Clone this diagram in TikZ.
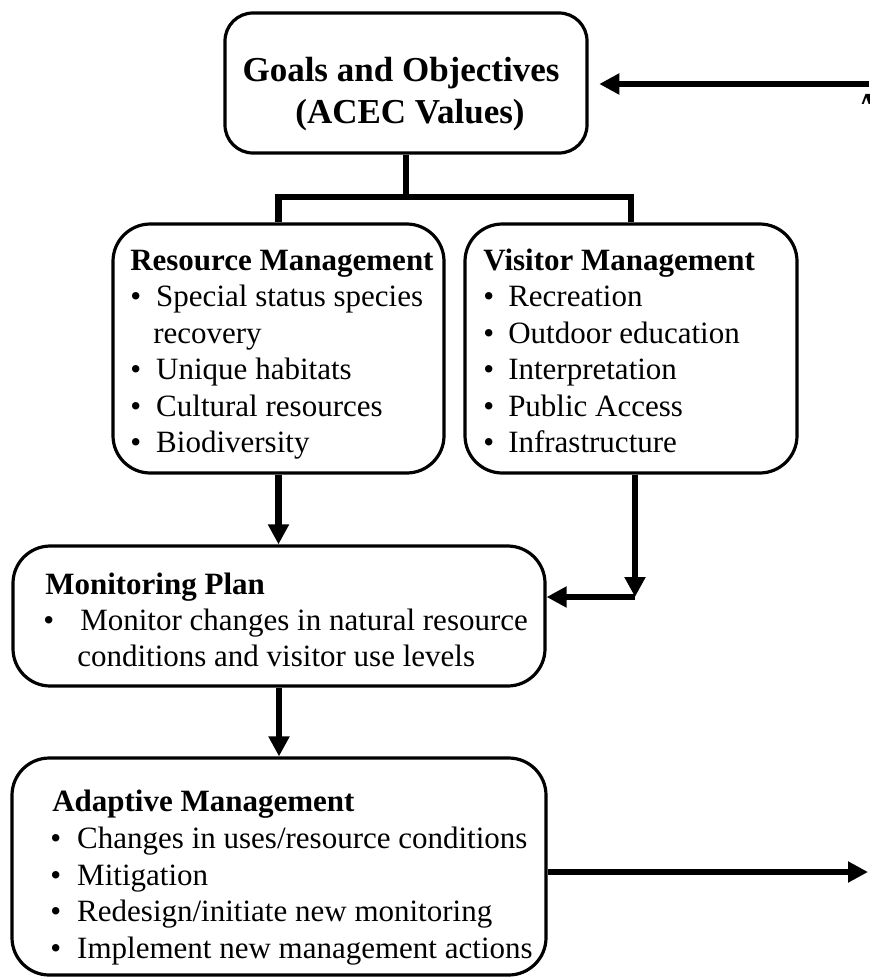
\documentclass[tikz,border=0pt]{standalone}
\usepackage{fontspec}
\setmainfont{Liberation Serif}
\usetikzlibrary{arrows.meta}
\newcommand\bitem[2]{\makebox[#1][l]{\textbullet}#2}
\newcommand\bodyfont{\fontsize{23.25pt}{27pt}\selectfont}
\newcommand\goalfont{\fontsize{26.25pt}{31.5pt}\selectfont\bfseries}
\begin{document}
\begin{tikzpicture}[x=0.75pt,y=-0.75pt,
  box/.style={draw, line width=2.4pt, inner sep=0pt, rounded corners=28pt},
  txt/.style={anchor=base west, inner sep=0pt, font=\bodyfont},
  hd/.style={anchor=base west, inner sep=0pt, font=\bodyfont\bfseries},
  conn/.style={line width=4.6pt, line join=miter},
  arr/.style={conn, -{Triangle[width=15pt,length=15pt]}}
]
\useasboundingbox (0,0) rectangle (869,977);

% boxes
\node[box, rounded corners=21pt, minimum width=271.5pt, minimum height=105pt] (goals) at (406,83) {};
\node[box, minimum width=248.25pt, minimum height=186.75pt] (res) at (278.5,348.5) {};
\node[box, minimum width=249pt, minimum height=186.75pt] (vis) at (631,348.5) {};
\node[box, minimum width=399pt, minimum height=105pt] (mon) at (279,616) {};
\node[box, minimum width=400.5pt, minimum height=162.75pt] (ada) at (279,866.5) {};

% goals text
\node[anchor=base, inner sep=0pt, font=\goalfont] (g1) at (401,82) {Goals and Objectives};
\node[anchor=base, inner sep=0pt, font=\goalfont] (g2) at (410,124) {(ACEC Values)};

% resource text
\node[hd]  (r0) at (130,270)   {Resource Management};
\node[txt] (r1) at (130,306.5) {\bitem{19.5pt}{Special status species}};
\node[txt] (r2) at (153,343)   {recovery};
\node[txt] (r3) at (130,379.5) {\bitem{19.5pt}{Unique habitats}};
\node[txt] (r4) at (130,416)   {\bitem{19.5pt}{Cultural resources}};
\node[txt] (r5) at (130,452.5) {\bitem{19.5pt}{Biodiversity}};

% visitor text
\node[hd]  (v0) at (483,270)   {Visitor Management};
\node[txt] (v1) at (483,306.5) {\bitem{18.75pt}{Recreation}};
\node[txt] (v2) at (483,343)   {\bitem{18.75pt}{Outdoor education}};
\node[txt] (v3) at (483,379.5) {\bitem{18.75pt}{Interpretation}};
\node[txt] (v4) at (483,416)   {\bitem{18.75pt}{Public Access}};
\node[txt] (v5) at (483,452.5) {\bitem{18.75pt}{Infrastructure}};

% monitoring text
\node[hd]  (m0) at (45,594) {Monitoring Plan};
\node[txt] (m1) at (43,630) {\bitem{27.75pt}{Monitor changes in natural resource}};
\node[txt] (m2) at (77,666) {conditions and visitor use levels};

% adaptive text
\node[hd]  (a0) at (52,811)   {Adaptive Management};
\node[txt] (a1) at (50,848)   {\bitem{20.25pt}{Changes in uses/resource conditions}};
\node[txt] (a2) at (50,885)   {\bitem{20.25pt}{Mitigation}};
\node[txt] (a3) at (50,921.5) {\bitem{20.25pt}{Redesign/initiate new monitoring}};
\node[txt] (a4) at (50,958)   {\bitem{20.25pt}{Implement new management actions}};

% fragment of cut-off label at the top right
\begin{scope}
\clip (860,90) rectangle (869,104);
\node[anchor=base west, inner sep=0pt, font=\goalfont] (afrag) at (855,118) {A};
\end{scope}

% coordinates
\coordinate (j) at (406,197);
\coordinate (c) at (635,597);
\coordinate (inR) at (869,84);
\coordinate (outR) at (868,872);

% connectors
\draw[conn] (goals.south) -- (j);
\draw[conn] (res.north) -- (res.north |- j) -- (vis.north |- j) -- (vis.north);
\draw[arr] (res.south) -- (res.south |- mon.north);
\draw[arr] (vis.south -| c) -- (c);
\draw[arr] (c) -- (c -| mon.east);
\draw[arr] (mon.south) -- (ada.north);
\draw[arr] (ada.east |- outR) -- (outR);
\draw[arr, shorten >=8pt] (inR) -- (goals.east |- inR);
\end{tikzpicture}
\end{document}
